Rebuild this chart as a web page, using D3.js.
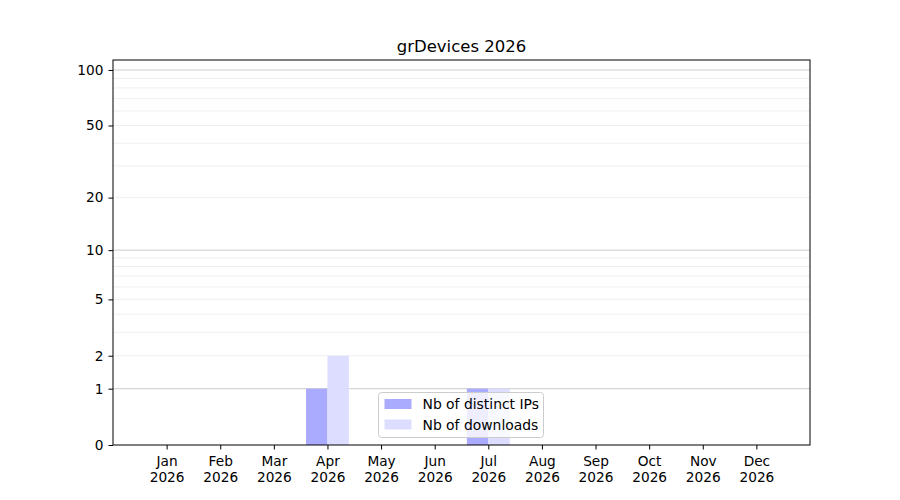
<!DOCTYPE html>
<html>
<head>
<meta charset="utf-8">
<script src="https://cdn.jsdelivr.net/npm/d3@7"></script>
<style>
  body { margin: 0; background: #fff; }
  svg { font-family: "DejaVu Sans", sans-serif; }
</style>
</head>
<body>
<svg id="chart" width="900" height="500"></svg>
<script>
// data
var months = ["Jan","Feb","Mar","Apr","May","Jun","Jul","Aug","Sep","Oct","Nov","Dec"];
var year = "2026";
var distinctIPs = [0, 0, 0, 1, 0, 0, 1, 0, 0, 0, 0, 0];
var downloads   = [0, 0, 0, 2, 0, 0, 1, 0, 0, 0, 0, 0];
var yTicks = [0, 1, 2, 5, 10, 20, 50, 100];
var yMajorGrid = [1, 10, 100];
var yMinorGrid = [2, 3, 4, 5, 6, 7, 8, 9, 20, 30, 40, 50, 60, 70, 80, 90];
var seriesNames = ["Nb of distinct IPs", "Nb of downloads"];
var seriesColors = ["#aaaaff", "#ddddff"];

var margin = {left: 113, right: 90, top: 60, bottom: 55};
var W = 900, H = 500;
var FONT = "DejaVu Sans";

var svg = d3.select("#chart");

// months sit at their index, limits one step past either end
var x = d3.scaleLinear()
	.domain([-1, months.length])
	.range([margin.left, W - margin.right]);
var barW = 0.4;

// y is log10(1 + v), as the picture spacing shows
function tr(v) { return Math.log10(1 + v); }
var yLin = d3.scaleLinear()
	.domain([0, tr(113.2)])
	.range([H - margin.bottom, margin.top]);
function y(v) { return yLin(tr(v)); }

// grid
svg.append("g").selectAll("line").data(yMinorGrid).join("line")
	.attr("x1", margin.left).attr("x2", W - margin.right)
	.attr("y1", d => y(d)).attr("y2", d => y(d))
	.attr("stroke", "#ebebeb").attr("stroke-width", 0.8);
svg.append("g").selectAll("line").data(yMajorGrid).join("line")
	.attr("x1", margin.left).attr("x2", W - margin.right)
	.attr("y1", d => y(d)).attr("y2", d => y(d))
	.attr("stroke", "#cccccc").attr("stroke-width", 1);

// bars
var bars = svg.append("g");
bars.selectAll("rect.ip").data(distinctIPs).join("rect")
	.attr("class", "ip")
	.attr("x", (d, i) => x(i - barW))
	.attr("width", (d, i) => x(i) - x(i - barW))
	.attr("y", d => y(d))
	.attr("height", d => y(0) - y(d))
	.attr("fill", seriesColors[0]);
bars.selectAll("rect.dl").data(downloads).join("rect")
	.attr("class", "dl")
	.attr("x", (d, i) => x(i))
	.attr("width", (d, i) => x(i + barW) - x(i))
	.attr("y", d => y(d))
	.attr("height", d => y(0) - y(d))
	.attr("fill", seriesColors[1]);

// frame
svg.append("rect")
	.attr("x", margin.left).attr("y", margin.top)
	.attr("width", W - margin.left - margin.right)
	.attr("height", H - margin.top - margin.bottom)
	.attr("fill", "none").attr("stroke", "#000").attr("stroke-width", 1);

// y axis
var yAxis = d3.axisLeft(yLin)
	.tickValues(yTicks.map(tr))
	.tickFormat((d, i) => yTicks[i])
	.tickSize(4.5).tickPadding(5);
svg.append("g")
	.attr("transform", `translate(${margin.left},0)`)
	.call(yAxis)
	.attr("font-family", FONT)
	.attr("font-size", 13.7)
	.call(g => g.select(".domain").remove())
	.selectAll("text")
		.attr("fill", "#000");

// x axis
var xAxis = d3.axisBottom(x)
	.tickValues(d3.range(months.length))
	.tickFormat("")
	.tickSize(4.5);
var gx = svg.append("g")
	.attr("transform", `translate(0,${H - margin.bottom})`)
	.call(xAxis)
	.attr("font-family", FONT)
	.attr("font-size", 13.7)
	.call(g => g.select(".domain").remove());

gx.selectAll(".tick").append("text")
	.attr("fill", "#000")
	.attr("text-anchor", "middle")
	.selectAll("tspan")
	.data(i => [months[i], year])
	.join("tspan")
		.attr("x", 0)
		.attr("y", (d, i) => 21 + i * 16)
		.text(d => d);

// title
svg.append("text")
	.attr("x", (margin.left + W - margin.right) / 2)
	.attr("y", 52)
	.attr("text-anchor", "middle")
	.attr("font-family", FONT)
	.attr("font-size", 16.5)
	.attr("fill", "#000")
	.text("grDevices " + year);

// legend
var leg = svg.append("g").attr("transform", "translate(378.5,392.5)")
	.attr("font-family", FONT);
leg.append("rect")
	.attr("width", 165).attr("height", 45)
	.attr("rx", 3)
	.attr("fill", "rgba(255,255,255,0.8)")
	.attr("stroke", "#cccccc");
seriesNames.forEach(function (name, i) {
	leg.append("rect")
		.attr("x", 6).attr("y", 6.5 + i * 20.5)
		.attr("width", 27).attr("height", 10)
		.attr("fill", seriesColors[i]);
	leg.append("text")
		.attr("x", 44).attr("y", 16.5 + i * 20.5)
		.attr("font-size", 13.9)
		.attr("fill", "#000")
		.text(name);
});
</script>
</body>
</html>
